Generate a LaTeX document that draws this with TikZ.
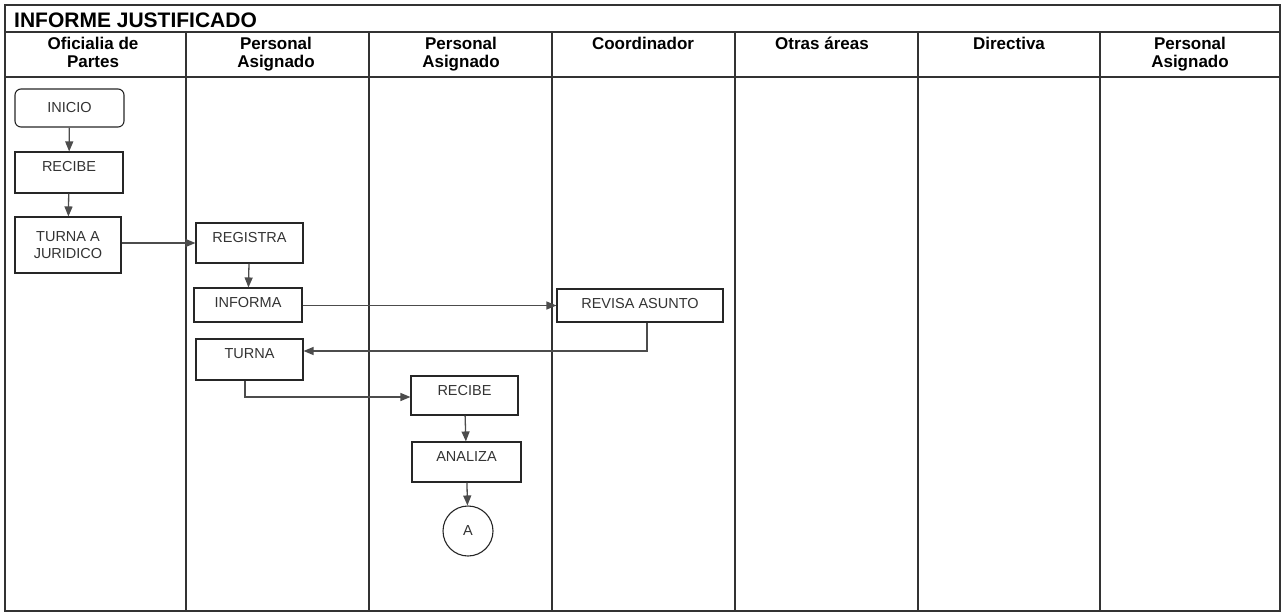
\documentclass[tikz,border=0pt]{standalone}
\usepackage{fontspec}
\setmainfont{Liberation Sans}
\usetikzlibrary{arrows.meta,calc}
\begin{document}
\begin{tikzpicture}[x=1pt,y=-1pt,
  frame/.style={draw=black!80, line width=1.2pt},
  box/.style={draw=black!85, line width=1.1pt, rectangle, inner xsep=0pt, inner ysep=9pt, text height=10.4pt, font=\fontsize{14.5}{17.5}\selectfont, text=black!80},
  flow/.style={draw=black!70, line width=1.3pt, -{Triangle[length=10pt,width=8pt]}},
  head/.style={font=\bfseries\fontsize{17}{18}\selectfont, align=center, anchor=north, inner sep=0pt}]
\useasboundingbox (0,0) rectangle (1283,614);
% frame
\draw[frame] (5,5) rectangle (1280,611);
\draw[frame] (5,32) -- (1280,32);
\draw[frame] (5,77) -- (1280,77);
\foreach \x in {186,369,552,735,918,1100} \draw[frame] (\x,32) -- (\x,611);
% title and headers
\node[anchor=west, font=\bfseries\fontsize{21}{24}\selectfont, inner sep=0pt] (title) at (14,20) {INFORME JUSTIFICADO};
\node[head] (h1) at (93,37) {Oficialia de\\Partes};
\node[head] (h2) at (276,37) {Personal\\Asignado};
\node[head] (h3) at (461,37) {Personal\\Asignado};
\node[head] (h4) at (643,37) {Coordinador};
\node[head] (h5) at (822,37) {Otras áreas};
\node[head] (h6) at (1009,37) {Directiva};
\node[head] (h7) at (1190,37) {Personal\\Asignado};
% nodes
\node[draw=black!85, line width=1.1pt, rounded corners=6pt, minimum width=109pt, minimum height=38pt, inner sep=0pt, font=\fontsize{14.5}{17.5}\selectfont, text=black!80] (inicio) at (69.5,108) {INICIO};
\node[box, minimum width=108pt, text depth=12.6pt] (recibea) at (69,172.5) {RECIBE};
\node[draw=black!85, line width=1.1pt, minimum width=106pt, minimum height=56pt, inner sep=0pt, align=center, font=\fontsize{14.5}{17.5}\selectfont, text=black!80] (turnaj) at (68,245) {TURNA A\\JURIDICO};
\node[box, minimum width=107pt, text depth=11.6pt] (registra) at (249.5,243) {REGISTRA};
\node[box, minimum width=108pt, text depth=5.6pt] (informa) at (248,305) {INFORMA};
\node[box, minimum width=107pt, text depth=12.6pt] (turna) at (249.5,359.5) {TURNA};
\node[box, minimum width=166pt, text depth=4.6pt] (revisa) at (640,305.5) {REVISA ASUNTO};
\node[box, minimum width=107pt, text depth=10.6pt] (recibeb) at (464.5,395.5) {RECIBE};
\node[box, minimum width=109pt, text depth=11.6pt] (analiza) at (466.5,462) {ANALIZA};
\node[draw=black!85, line width=1.1pt, circle, minimum size=50pt, inner sep=0pt, font=\fontsize{14.5}{17.5}\selectfont, text=black!80] (conA) at (468,531) {A};
% connectors
\draw[flow] (inicio) -- (recibea);
\draw[flow] (recibea) -- (turnaj);
\draw[flow] (turnaj.east |- registra) -- (registra.west);
\draw[flow] (registra) -- (informa);
\draw[flow] (informa.east |- revisa) -- (revisa.west);
\coordinate (c1) at (647,351);
\draw[flow] (revisa.south -| c1) -- (c1) -- (turna.east |- c1);
\coordinate (c2) at (245,397);
\draw[flow] (turna.south -| c2) -- (c2) -- (recibeb.west |- c2);
\draw[flow] (recibeb) -- (analiza);
\draw[flow] (analiza) -- (conA);
\end{tikzpicture}
\end{document}
